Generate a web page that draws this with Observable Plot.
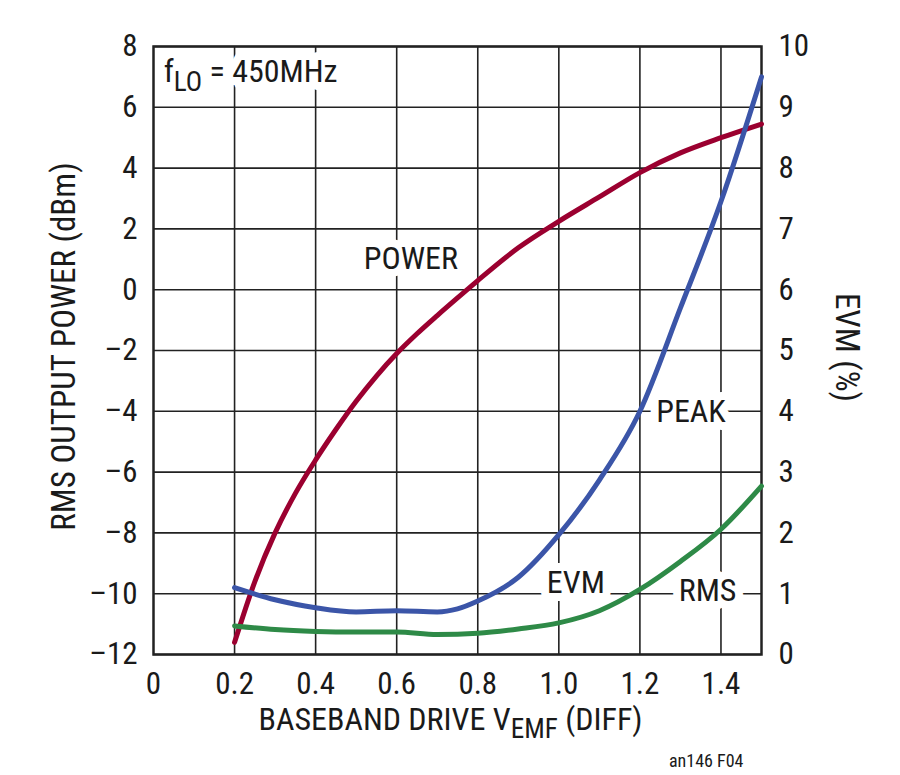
<!DOCTYPE html>
<html><head><meta charset="utf-8">
<script src="https://cdn.jsdelivr.net/npm/d3@7"></script>
<script src="https://cdn.jsdelivr.net/npm/@observablehq/plot@0.6"></script>
<style>body{margin:0;background:#fff}</style>
</head><body><div id="chart"></div>
<script>
// x: baseband drive (V, diff)
const powerX = [0.2, 0.25, 0.3, 0.35, 0.4, 0.45, 0.5, 0.55, 0.6, 0.65, 0.7, 0.75, 0.8, 0.9, 1.0, 1.1, 1.2, 1.3, 1.4, 1.5];
const powerDbm = [-11.6, -9.6, -8.0, -6.7, -5.6, -4.6, -3.67, -2.84, -2.1, -1.45, -0.85, -0.27, 0.3, 1.38, 2.25, 3.05, 3.85, 4.5, 5.0, 5.45];
const evmX = [0.2, 0.3, 0.4, 0.5, 0.6, 0.7, 0.75, 0.8, 0.9, 1.0, 1.1, 1.2, 1.3, 1.4, 1.5];
const evmPeak = [1.1, 0.9, 0.77, 0.7, 0.72, 0.7, 0.75, 0.88, 1.27, 1.97, 2.87, 4.0, 5.7, 7.45, 9.5];
const rmsX = [0.2, 0.3, 0.4, 0.5, 0.6, 0.7, 0.8, 0.9, 1.0, 1.1, 1.2, 1.3, 1.4, 1.5];
const evmRms = [0.47, 0.41, 0.38, 0.37, 0.37, 0.33, 0.35, 0.42, 0.52, 0.72, 1.07, 1.53, 2.06, 2.77];
const xTicks = [0, 0.2, 0.4, 0.6, 0.8, 1.0, 1.2, 1.4];
const yTicks = [-12, -10, -8, -6, -4, -2, 0, 2, 4, 6, 8];
const evmTicks = [0, 1, 2, 3, 4, 5, 6, 7, 8, 9, 10];
const labels = [
  {x: 0.635, y: 1.03, text: "POWER"},
  {x: 1.326, y: -4.0, text: "PEAK"},
  {x: 1.042, y: -9.65, text: "EVM"},
  {x: 1.367, y: -9.9, text: "RMS"}
];
const note = [{x: 0.025, y: 7.16, text: "fLO = 450MHz"}];

const evmToY = e => e * 2 - 12;
const power = powerX.map((x, i) => ({x, y: powerDbm[i]}));
const peak = evmX.map((x, i) => ({x, y: evmToY(evmPeak[i])}));
const rms = rmsX.map((x, i) => ({x, y: evmToY(evmRms[i])}));
const fmt = d => (d < 0 ? "–" + Math.abs(d) : String(d));
const fmtX = d => (d === 0 ? "0" : d.toFixed(1));

const font = "'Liberation Sans Narrow', 'Roboto Condensed', 'Liberation Sans', sans-serif";
const ink = "#1a1a1a";
const chart = Plot.plot({
  width: 900, height: 775,
  marginLeft: 153, marginRight: 139, marginTop: 46, marginBottom: 121,
  style: {fontFamily: font, fontSize: "31px", color: ink, background: "#fff"},
  x: {domain: [0, 1.5]},
  y: {domain: [-12, 8]},
  marks: [
    Plot.gridX(xTicks.filter(d => d > 0), {stroke: "#222", strokeOpacity: 1, strokeWidth: 1.6}),
    Plot.gridY(yTicks, {stroke: "#222", strokeOpacity: 1, strokeWidth: 1.6}),
    Plot.axisX(xTicks, {tickSize: 0, tickPadding: 17, tickFormat: fmtX, label: null, fontSize: 31}),
    Plot.axisY(yTicks, {anchor: "left", tickSize: 0, tickPadding: 16, tickFormat: fmt, label: null, fontSize: 31}),
    Plot.axisY(evmTicks.map(evmToY), {anchor: "right", tickSize: 0, tickPadding: 17, tickFormat: d => String((d + 12) / 2), label: null, fontSize: 31}),
    // white knock-out behind labels
    Plot.text(note, {x: "x", y: "y", text: "text", textAnchor: "start", fontSize: 32, stroke: "white", strokeWidth: 16, fill: "white"}),
    Plot.text(labels, {x: "x", y: "y", text: "text", fontSize: 32, stroke: "white", strokeWidth: 16, fill: "white"}),
    Plot.text(note, {x: "x", y: "y", text: "text", textAnchor: "start", fontSize: 32, fill: ink}),
    Plot.text(labels, {x: "x", y: "y", text: "text", fontSize: 32, fill: ink}),
    Plot.frame({stroke: "#222", strokeWidth: 2.5}),
    Plot.line(power, {x: "x", y: "y", stroke: "#9b0030", strokeWidth: 5, curve: "monotone-x"}),
    Plot.line(peak, {x: "x", y: "y", stroke: "#3b55a8", strokeWidth: 5, curve: "monotone-x"}),
    Plot.line(rms, {x: "x", y: "y", stroke: "#2e8a47", strokeWidth: 5, curve: "monotone-x"}),
    Plot.text([{t: "RMS OUTPUT POWER (dBm)"}], {frameAnchor: "left", textAnchor: "middle", dx: -89, dy: -4, rotate: -90, text: "t", fontSize: 33, fill: ink}),
    Plot.text([{t: "EVM (%)"}], {frameAnchor: "right", textAnchor: "middle", dx: 85, dy: -3, rotate: 90, text: "t", fontSize: 33, fill: ink}),
    Plot.text([{t: "BASEBAND DRIVE VEMF (DIFF)"}], {frameAnchor: "bottom", textAnchor: "middle", dx: -7, dy: 75, text: "t", fontSize: 32, fill: ink}),
    Plot.text([{t: "an146 F04"}], {frameAnchor: "bottom-right", dx: -18, dy: 112, textAnchor: "end", text: "t", fontSize: 18, fill: ink})
  ]
});
document.getElementById("chart").appendChild(chart);

// subscripts
function subscript(full, pre, sub, post, shift) {
  d3.select(chart).selectAll("text").each(function() {
    if (this.textContent === full) {
      const t = d3.select(this);
      t.text(null);
      t.append("tspan").text(pre);
      t.append("tspan").attr("dy", shift).attr("font-size", "0.85em").text(sub);
      t.append("tspan").attr("dy", -shift).text(post);
    }
  });
}
subscript("fLO = 450MHz", "f", "LO", " = 450MHz", 9);
subscript("BASEBAND DRIVE VEMF (DIFF)", "BASEBAND DRIVE V", "EMF", " (DIFF)", 8);
</script>
</body></html>
